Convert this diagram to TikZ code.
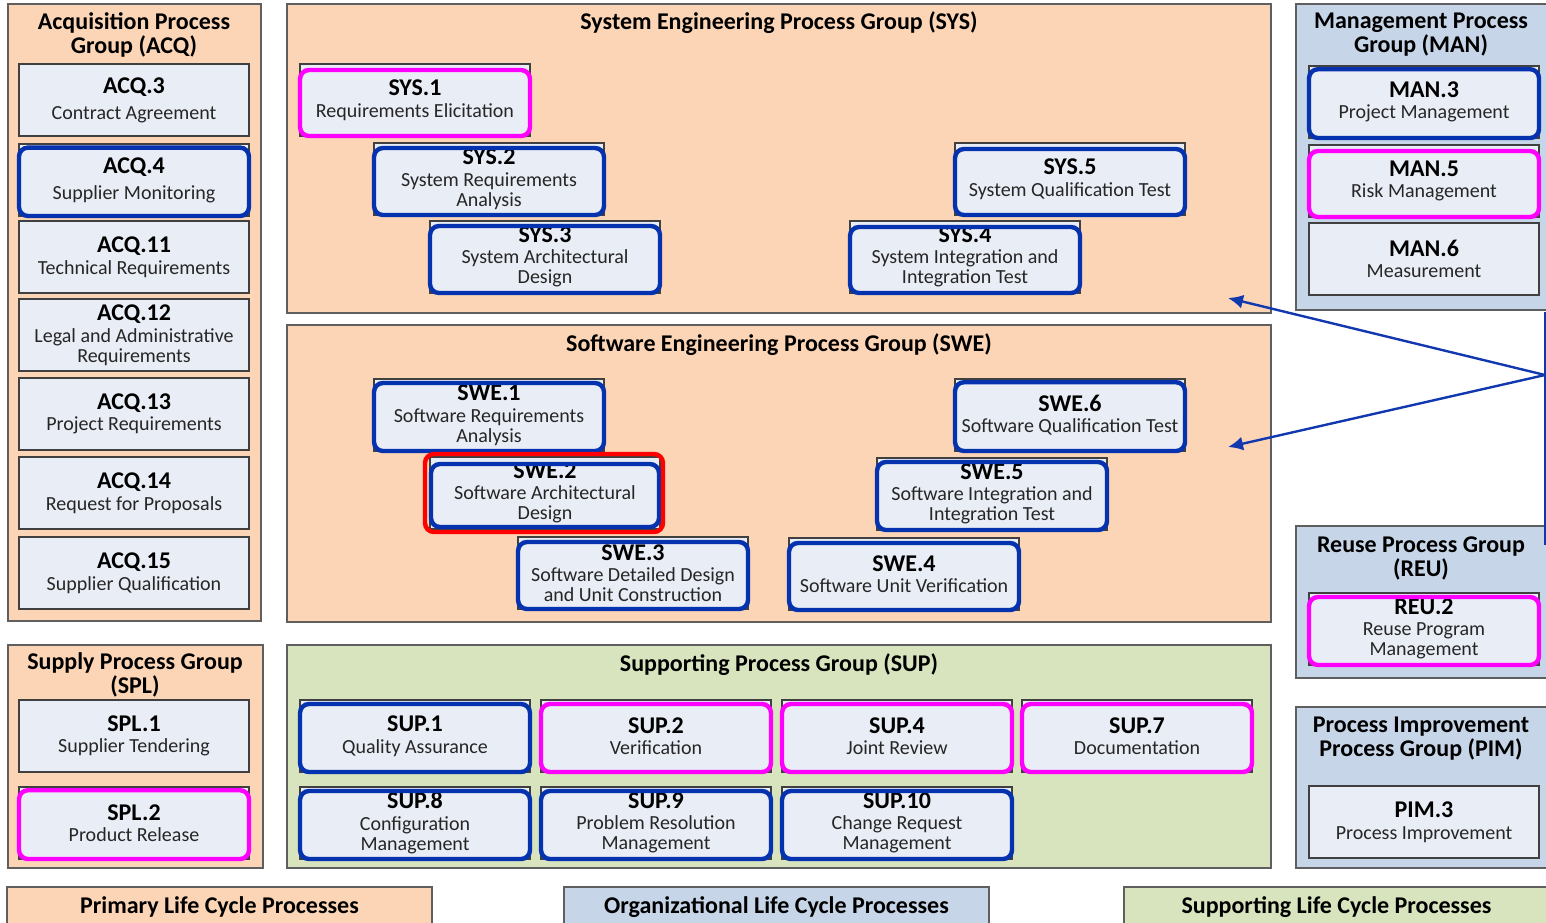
\documentclass[tikz,border=0pt]{standalone}
\usepackage{fontspec}
\setmainfont{Carlito}
\usetikzlibrary{arrows.meta}

\definecolor{peach}{HTML}{FBD5B5}
\definecolor{steel}{HTML}{C6D5E7}
\definecolor{sage}{HTML}{D7E4BD}
\definecolor{itemfill}{HTML}{E9EDF5}
\definecolor{grpline}{HTML}{5F5F5F}
\definecolor{itemline}{HTML}{404040}
\definecolor{ringblue}{HTML}{0533AF}
\definecolor{ringpink}{HTML}{FF00FF}
\definecolor{ringred}{HTML}{FF0000}
\definecolor{desctext}{HTML}{262626}
\definecolor{arrowblue}{HTML}{1238B0}

% rectangle node spanning (x1,y1)-(x2,y2), given in pixel units
\newcommand\spanbox[6]{\node[#1, minimum width={(#5-#3)*0.5pt}, minimum height={(#6-#4)*0.5pt}, anchor=north west] (#2) at (#3,#4) {};}
% process box: [gap] name, x, y (top left), code, description
\newcommand\proc[6][0.8pt]{\node[proc] (#2) at (#3,#4) {\proccode{#5}\\[#1]#6};}
\newcommand\proccode[1]{{\fontsize{12}{12}\selectfont\bfseries\color{black}#1}}
% coloured rounded frame over a process box: [top drop] style, node
\newcommand\ring[3][2.5pt]{\draw[#2] ([yshift=-#1]#3.north west) rectangle (#3.south east);}

\begin{document}
\begin{tikzpicture}[x=0.5pt,y=-0.5pt,
  grp/.style={draw=grpline, line width=1pt, inner sep=0pt, outer sep=0pt},
  grptitle/.style={font=\fontsize{12}{12}\selectfont\bfseries, align=center, text=black, inner sep=0pt},
  proc/.style={draw=itemline, fill=itemfill, line width=1pt, minimum width=115pt, minimum height=36pt,
    anchor=north west, align=center, inner sep=0pt, outer sep=0pt,
    font=\fontsize{10}{10}\selectfont, text=desctext},
  bluering/.style={draw=ringblue, line width=2.2pt, rounded corners=4.5pt},
  pinkring/.style={draw=ringpink, line width=2.2pt, rounded corners=4.5pt},
  redring/.style={draw=ringred, line width=2.2pt, rounded corners=4.5pt},
  conn/.style={draw=arrowblue, line width=1.2pt}]
\useasboundingbox (0,0) rectangle (1546,922);

% ---------- group frames ----------
\spanbox{grp,fill=peach}{acq}{8}{4}{261}{621}
\spanbox{grp,fill=peach}{sys}{287}{4}{1271}{313}
\spanbox{grp,fill=peach}{swe}{287}{325}{1271}{622}
\spanbox{grp,fill=steel}{man}{1296}{4}{1562}{310}
\spanbox{grp,fill=steel}{reu}{1296}{526}{1562}{678}
\spanbox{grp,fill=steel}{pim}{1296}{707}{1562}{868}
\spanbox{grp,fill=peach}{spl}{8}{645}{263}{868}
\spanbox{grp,fill=sage}{sup}{287}{645}{1271}{868}

% legend bars
\spanbox{grp,fill=peach}{legprim}{7}{887}{432}{932}
\spanbox{grp,fill=steel}{legorg}{564}{887}{989}{932}
\spanbox{grp,fill=sage}{legsup}{1124}{887}{1562}{932}
\node[grptitle] (legprimt) at (219.5,907) {Primary Life Cycle Processes};
\node[grptitle] (legorgt) at (776.5,907) {Organizational Life Cycle Processes};
\node[grptitle] (legsupt) at (1336.5,907) {Supporting Life Cycle Processes};

% ---------- group titles ----------
\node[grptitle] (acqt) at (134,35) {Acquisition Process\\Group (ACQ)};
\node[grptitle] (syst) at (779,23) {System Engineering Process Group (SYS)};
\node[grptitle] (swet) at (779,345) {Software Engineering Process Group (SWE)};
\node[grptitle] (mant) at (1421,35) {Management Process\\Group (MAN)};
\node[grptitle] (reut) at (1421,558) {Reuse Process Group\\(REU)};
\node[grptitle] (pimt) at (1421,739) {Process Improvement\\Process Group (PIM)};
\node[grptitle] (splt) at (135,675) {Supply Process Group\\(SPL)};
\node[grptitle] (supt) at (779,665) {Supporting Process Group (SUP)};

% ---------- acquisition ----------
\proc[3pt]{acq3}{19}{64}{ACQ.3}{Contract Agreement}
\proc[3pt]{acq4}{19}{144}{ACQ.4}{Supplier Monitoring}
\proc{acq11}{19}{221}{ACQ.11}{Technical Requirements}
\proc{acq12}{19}{299}{ACQ.12}{Legal and Administrative\\Requirements}
\proc{acq13}{19}{378}{ACQ.13}{Project Requirements}
\proc{acq14}{19}{457}{ACQ.14}{Request for Proposals}
\proc{acq15}{19}{537}{ACQ.15}{Supplier Qualification}
\ring[1.8pt]{bluering}{acq4}

% ---------- system engineering ----------
\proc{sys1}{300}{64}{SYS.1}{Requirements Elicitation}
\proc{sys2}{374}{143}{SYS.2}{System Requirements\\Analysis}
\proc{sys3}{430}{221}{SYS.3}{System Architectural\\Design}
\proc{sys5}{955}{143}{SYS.5}{System Qualification Test}
\proc{sys4}{850}{221}{SYS.4}{System Integration and\\Integration Test}
\ring[3pt]{pinkring}{sys1}
\ring{bluering}{sys2}
\ring{bluering}{sys3}
\ring[3pt]{bluering}{sys5}
\ring[3pt]{bluering}{sys4}

% ---------- software engineering ----------
\proc{swe1}{374}{379}{SWE.1}{Software Requirements\\Analysis}
\proc{swe2}{430}{457}{SWE.2}{Software Architectural\\Design}
\proc{swe3}{518}{537}{SWE.3}{Software Detailed Design\\and Unit Construction}
\proc{swe6}{955}{379}{SWE.6}{Software Qualification Test}
\proc{swe5}{877}{458}{SWE.5}{Software Integration and\\Integration Test}
\proc{swe4}{789}{538}{SWE.4}{Software Unit Verification}
\ring[2pt]{bluering}{swe1}
\draw[bluering] ([xshift=0.5pt,yshift=-3.5pt]swe2.north west) rectangle ([xshift=-0.5pt,yshift=1pt]swe2.south east);
\draw[redring] ([xshift=-2.5pt,yshift=1.5pt]swe2.north west) rectangle ([xshift=1.5pt,yshift=-1.5pt]swe2.south east);
\ring{bluering}{swe3}
\ring[1.6pt]{bluering}{swe6}
\ring[2pt]{bluering}{swe5}
\ring{bluering}{swe4}

% ---------- management, reuse, improvement ----------
\proc{man3}{1309}{66}{MAN.3}{Project Management}
\proc{man5}{1309}{145}{MAN.5}{Risk Management}
\proc{man6}{1309}{223}{MAN.6}{Measurement}
\ring[1.6pt]{bluering}{man3}
\ring[3pt]{pinkring}{man5}
\proc{reu2}{1309}{593}{REU.2}{Reuse Program\\Management}
\ring[2pt]{pinkring}{reu2}
\proc{pim3}{1309}{786}{PIM.3}{Process Improvement}

% ---------- supply ----------
\proc{spl1}{19}{700}{SPL.1}{Supplier Tendering}
\proc{spl2}{19}{787}{SPL.2}{Product Release}
\ring[1.6pt]{pinkring}{spl2}

% ---------- supporting ----------
\proc{sup1}{300}{700}{SUP.1}{Quality Assurance}
\proc{sup2}{541}{700}{SUP.2}{Verification}
\proc{sup4}{782}{700}{SUP.4}{Joint Review}
\proc{sup7}{1022}{700}{SUP.7}{Documentation}
\proc{sup8}{300}{787}{SUP.8}{Configuration\\Management}
\proc{sup9}{541}{787}{SUP.9}{Problem Resolution\\Management}
\proc{sup10}{782}{787}{SUP.10}{Change Request\\Management}
\ring[2pt]{bluering}{sup1}
\ring[2pt]{pinkring}{sup2}
\ring[2pt]{pinkring}{sup4}
\ring[2pt]{pinkring}{sup7}
\ring[2pt]{bluering}{sup8}
\ring[2pt]{bluering}{sup9}
\ring[2pt]{bluering}{sup10}

% ---------- pointer arrows ----------
\coordinate (bartop) at (1545,312);
\coordinate (barbot) at (1545,545);
\coordinate (hub) at (1545,375);
\coordinate (tipsys) at (1228,298);
\coordinate (tipswe) at (1228,447);
\draw[conn] (bartop) -- (barbot);
\draw[conn,-{Latex[length=7.5pt,width=7pt]}] (hub) -- (tipsys);
\draw[conn,-{Latex[length=7.5pt,width=7pt]}] (hub) -- (tipswe);
\end{tikzpicture}
\end{document}
